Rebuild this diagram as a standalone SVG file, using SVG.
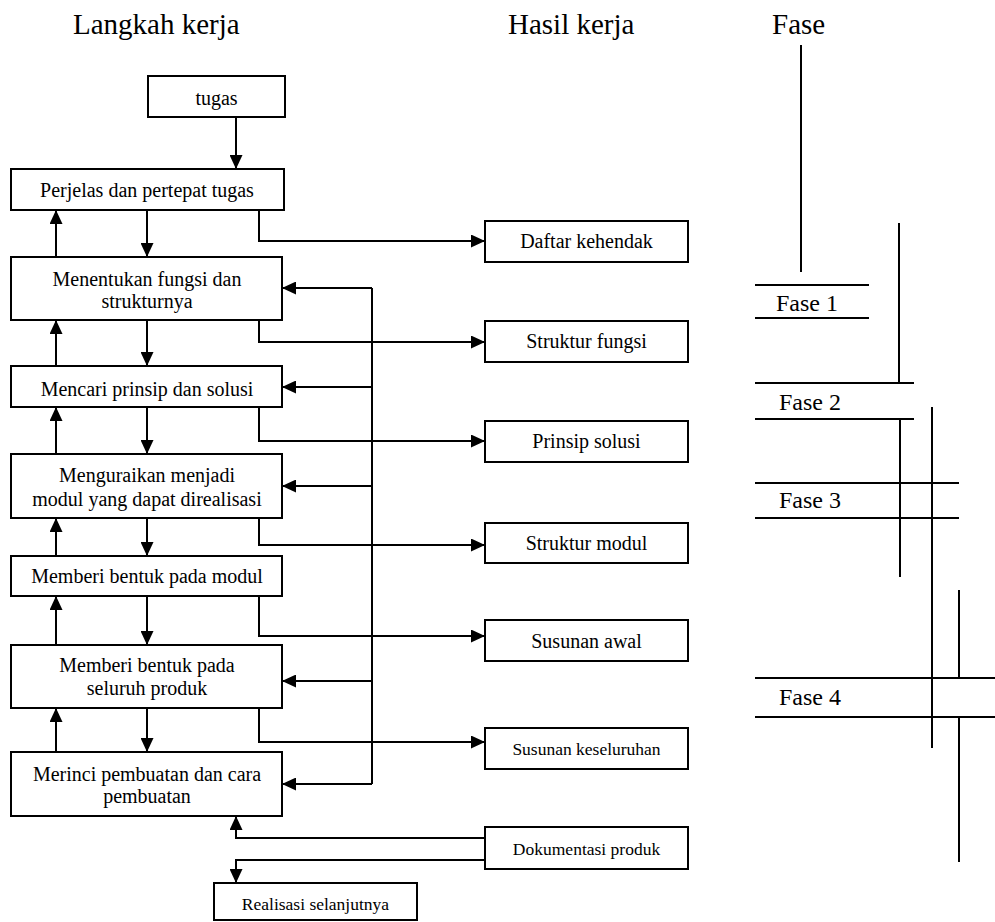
<svg xmlns="http://www.w3.org/2000/svg" width="995" height="922" viewBox="0 0 995 922">
<style>
text{font-family:"Liberation Serif","Times New Roman",serif;fill:#000}
.box{fill:#fff;stroke:#000;stroke-width:2}
.t{font-size:20px;text-anchor:middle}
.s{font-size:17.5px;text-anchor:middle}
.title{font-size:29px}
.fase{font-size:24px}
.c{fill:none;stroke:#000;stroke-width:2}
.a{fill:none;stroke:#000;stroke-width:2;marker-end:url(#ah)}
.f{stroke:#000;stroke-width:2}
</style>
<defs>
<marker id="ah" markerUnits="userSpaceOnUse" markerWidth="14" markerHeight="13" refX="14" refY="6.5" orient="auto">
<path d="M0,0 L14,6.5 L0,13 z" fill="#000"/>
</marker>
</defs>
<rect width="995" height="922" fill="#fff"/>
<g id="titles">
<text class="title" x="73" y="34">Langkah kerja</text>
<text class="title" x="508" y="34">Hasil kerja</text>
<text class="title" x="772" y="34">Fase</text>
</g>
<g id="connectors">
<path class="a" d="M236,117 V169"/>
<path class="a" d="M147,210 V257"/>
<path class="a" d="M56,257 V210"/>
<path class="a" d="M147,320 V366"/>
<path class="a" d="M56,366 V320"/>
<path class="a" d="M147,407 V454"/>
<path class="a" d="M56,454 V407"/>
<path class="a" d="M147,518 V556"/>
<path class="a" d="M56,556 V518"/>
<path class="a" d="M147,596 V645"/>
<path class="a" d="M56,645 V596"/>
<path class="a" d="M147,708 V752"/>
<path class="a" d="M56,752 V708"/>
<path class="a" d="M259,210 V241 H485"/>
<path class="a" d="M259,320 V342 H485"/>
<path class="a" d="M259,407 V441 H485"/>
<path class="a" d="M259,518 V545 H485"/>
<path class="a" d="M259,596 V636 H485"/>
<path class="a" d="M259,708 V742 H485"/>
<path class="c" d="M372,288 V784"/>
<path class="a" d="M372,288 H282"/>
<path class="a" d="M372,387 H282"/>
<path class="a" d="M372,486 H282"/>
<path class="a" d="M372,681 H282"/>
<path class="a" d="M372,784 H282"/>
<path class="a" d="M485,838 H236 V816"/>
<path class="a" d="M485,860 H236 V883"/>
</g>
<g id="n-tugas"><rect class="box" x="148" y="76" width="137" height="41"/><text class="t" x="216.5" y="105">tugas</text></g>
<g id="n-perjelas"><rect class="box" x="11" y="169" width="273" height="41"/><text class="t" x="147" y="197">Perjelas dan pertepat tugas</text></g>
<g id="n-menentukan"><rect class="box" x="11" y="257" width="271" height="63"/><text class="t" x="147" y="286">Menentukan fungsi dan</text><text class="t" x="147" y="308">strukturnya</text></g>
<g id="n-mencari"><rect class="box" x="11" y="366" width="271" height="41"/><text class="t" x="147" y="396">Mencari prinsip dan solusi</text></g>
<g id="n-menguraikan"><rect class="box" x="11" y="454" width="271" height="64"/><text class="t" x="147" y="482">Menguraikan menjadi</text><text class="t" x="147" y="505.5">modul yang dapat direalisasi</text></g>
<g id="n-modul"><rect class="box" x="11" y="556" width="271" height="40"/><text class="t" x="147" y="583">Memberi bentuk pada modul</text></g>
<g id="n-seluruh"><rect class="box" x="11" y="645" width="271" height="63"/><text class="t" x="147" y="671.5">Memberi bentuk pada</text><text class="t" x="147" y="695">seluruh produk</text></g>
<g id="n-merinci"><rect class="box" x="11" y="752" width="271" height="64"/><text class="t" x="147" y="780.5">Merinci pembuatan dan cara</text><text class="t" x="147" y="803">pembuatan</text></g>
<g id="n-daftar"><rect class="box" x="485" y="221" width="203" height="41"/><text class="t" x="586.5" y="248">Daftar kehendak</text></g>
<g id="n-strfungsi"><rect class="box" x="485" y="321" width="203" height="41"/><text class="t" x="586.5" y="348">Struktur fungsi</text></g>
<g id="n-prinsip"><rect class="box" x="485" y="421" width="203" height="41"/><text class="t" x="586.5" y="448">Prinsip solusi</text></g>
<g id="n-strmodul"><rect class="box" x="485" y="523" width="203" height="40"/><text class="t" x="586.5" y="550">Struktur modul</text></g>
<g id="n-awal"><rect class="box" x="485" y="620" width="203" height="41"/><text class="t" x="586.5" y="648">Susunan awal</text></g>
<g id="n-keseluruhan"><rect class="box" x="485" y="728" width="203" height="41"/><text class="s" x="586.5" y="755">Susunan keseluruhan</text></g>
<g id="n-dokumentasi"><rect class="box" x="485" y="827" width="203" height="42"/><text class="s" x="586.5" y="855">Dokumentasi produk</text></g>
<g id="n-realisasi"><rect class="box" x="214" y="883" width="203" height="37"/><text class="s" x="315.5" y="910">Realisasi selanjutnya</text></g>
<g id="phases">
<line class="f" x1="801" y1="45" x2="801" y2="272"/>
<line class="f" x1="755" y1="285" x2="869" y2="285"/>
<line class="f" x1="755" y1="318" x2="869" y2="318"/>
<text class="fase" x="776" y="311">Fase 1</text>
<line class="f" x1="899" y1="223" x2="899" y2="383"/>
<line class="f" x1="755" y1="383" x2="914" y2="383"/>
<line class="f" x1="755" y1="419" x2="914" y2="419"/>
<text class="fase" x="779" y="410">Fase 2</text>
<line class="f" x1="900" y1="419" x2="900" y2="577"/>
<line class="f" x1="932" y1="407" x2="932" y2="748"/>
<line class="f" x1="755" y1="483" x2="959" y2="483"/>
<line class="f" x1="755" y1="518" x2="959" y2="518"/>
<text class="fase" x="779" y="508">Fase 3</text>
<line class="f" x1="959" y1="590" x2="959" y2="678"/>
<line class="f" x1="755" y1="678" x2="995" y2="678"/>
<line class="f" x1="755" y1="717" x2="995" y2="717"/>
<text class="fase" x="779" y="705">Fase 4</text>
<line class="f" x1="959" y1="717" x2="959" y2="862"/>
</g>
</svg>
